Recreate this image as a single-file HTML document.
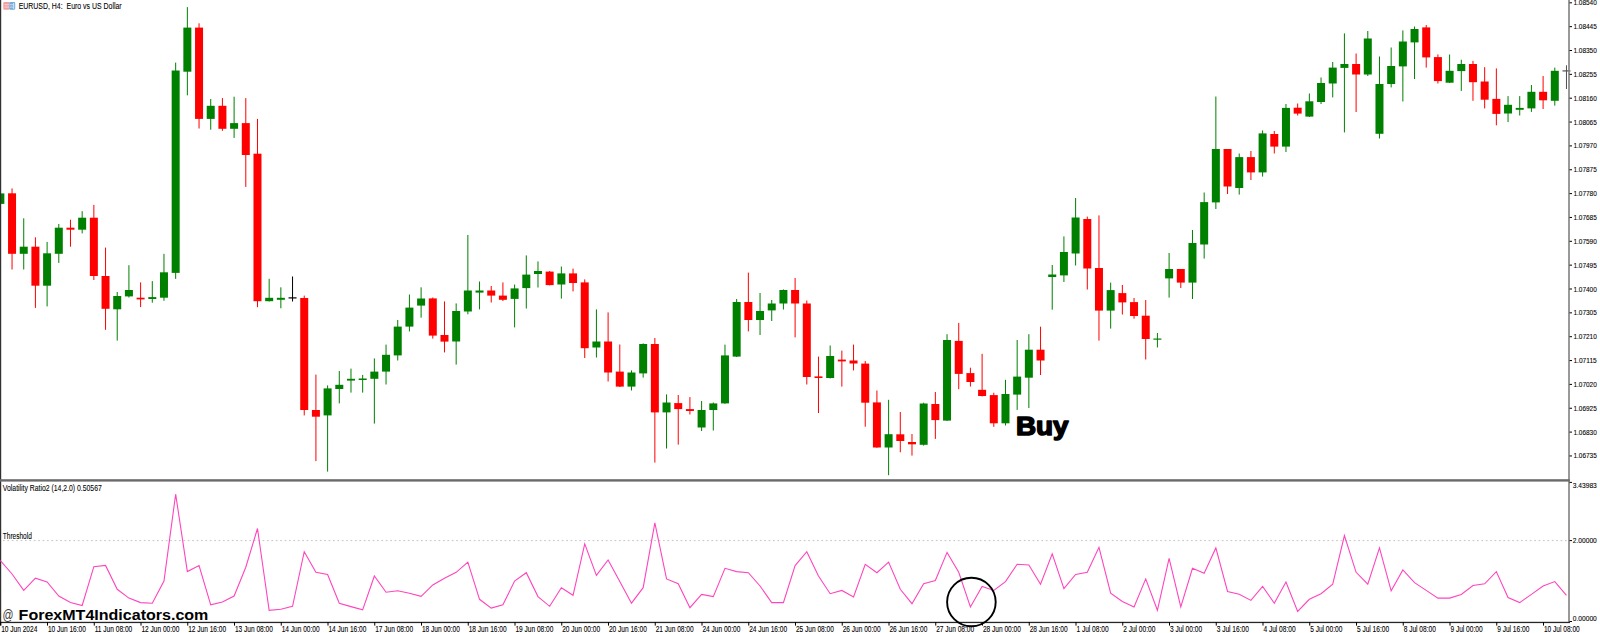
<!DOCTYPE html><html><head><meta charset="utf-8"><style>html,body{margin:0;padding:0;background:#fff;width:1600px;height:633px;overflow:hidden}svg{display:block}text{font-family:"Liberation Sans",sans-serif}</style></head><body>
<svg width="1600" height="633" viewBox="0 0 1600 633">
<rect x="0" y="0" width="1600" height="633" fill="#fff"/>
<rect x="-0.15" y="190.0" width="1" height="17.0" fill="#008000"/>
<rect x="-3.65" y="193.4" width="8" height="10.5" fill="#008000"/>
<rect x="11.54" y="188.4" width="1" height="81.1" fill="#ff0000"/>
<rect x="8.04" y="193.3" width="8" height="60.5" fill="#ff0000"/>
<rect x="23.23" y="218.3" width="1" height="51.2" fill="#008000"/>
<rect x="19.73" y="246.7" width="8" height="7.1" fill="#008000"/>
<rect x="34.91" y="237.3" width="1" height="70.6" fill="#ff0000"/>
<rect x="31.41" y="246.7" width="8" height="39.0" fill="#ff0000"/>
<rect x="46.60" y="241.9" width="1" height="64.5" fill="#008000"/>
<rect x="43.10" y="253.3" width="8" height="32.4" fill="#008000"/>
<rect x="58.29" y="224.0" width="1" height="38.9" fill="#008000"/>
<rect x="54.79" y="227.7" width="8" height="26.1" fill="#008000"/>
<rect x="69.97" y="219.7" width="1" height="27.0" fill="#ff0000"/>
<rect x="66.47" y="227.7" width="8" height="2.0" fill="#ff0000"/>
<rect x="81.66" y="211.2" width="1" height="22.2" fill="#008000"/>
<rect x="78.16" y="217.7" width="8" height="12.0" fill="#008000"/>
<rect x="93.35" y="204.9" width="1" height="75.1" fill="#ff0000"/>
<rect x="89.85" y="217.7" width="8" height="58.3" fill="#ff0000"/>
<rect x="105.04" y="247.6" width="1" height="82.2" fill="#ff0000"/>
<rect x="101.54" y="276.0" width="8" height="32.8" fill="#ff0000"/>
<rect x="116.72" y="292.0" width="1" height="48.6" fill="#008000"/>
<rect x="113.22" y="296.0" width="8" height="13.3" fill="#008000"/>
<rect x="128.41" y="265.2" width="1" height="32.3" fill="#008000"/>
<rect x="124.91" y="290.0" width="8" height="6.4" fill="#008000"/>
<rect x="140.10" y="282.4" width="1" height="24.7" fill="#ff0000"/>
<rect x="136.60" y="297.7" width="8" height="1.7" fill="#ff0000"/>
<rect x="151.79" y="281.1" width="1" height="21.6" fill="#008000"/>
<rect x="148.29" y="297.1" width="8" height="1.9" fill="#008000"/>
<rect x="163.47" y="253.8" width="1" height="47.0" fill="#008000"/>
<rect x="159.97" y="272.3" width="8" height="25.4" fill="#008000"/>
<rect x="175.16" y="62.6" width="1" height="216.3" fill="#008000"/>
<rect x="171.66" y="70.5" width="8" height="202.4" fill="#008000"/>
<rect x="186.85" y="7.1" width="1" height="88.2" fill="#008000"/>
<rect x="183.35" y="27.6" width="8" height="44.1" fill="#008000"/>
<rect x="198.54" y="23.3" width="1" height="105.2" fill="#ff0000"/>
<rect x="195.04" y="27.6" width="8" height="91.3" fill="#ff0000"/>
<rect x="210.22" y="99.0" width="1" height="30.7" fill="#008000"/>
<rect x="206.72" y="105.8" width="8" height="13.1" fill="#008000"/>
<rect x="221.91" y="98.1" width="1" height="32.7" fill="#ff0000"/>
<rect x="218.41" y="105.8" width="8" height="23.0" fill="#ff0000"/>
<rect x="233.60" y="96.7" width="1" height="41.2" fill="#008000"/>
<rect x="230.10" y="123.1" width="8" height="5.7" fill="#008000"/>
<rect x="245.29" y="98.1" width="1" height="88.8" fill="#ff0000"/>
<rect x="241.79" y="123.1" width="8" height="31.9" fill="#ff0000"/>
<rect x="256.98" y="118.9" width="1" height="188.3" fill="#ff0000"/>
<rect x="253.48" y="153.7" width="8" height="147.5" fill="#ff0000"/>
<rect x="268.66" y="278.8" width="1" height="22.7" fill="#008000"/>
<rect x="265.16" y="297.8" width="8" height="3.4" fill="#008000"/>
<rect x="280.35" y="287.3" width="1" height="21.0" fill="#008000"/>
<rect x="276.85" y="297.8" width="8" height="2.0" fill="#008000"/>
<rect x="292.04" y="276.5" width="1" height="25.0" fill="#000000"/>
<rect x="288.54" y="297.3" width="8" height="1.2" fill="#000000"/>
<rect x="303.73" y="295.6" width="1" height="119.8" fill="#ff0000"/>
<rect x="300.23" y="298.0" width="8" height="112.0" fill="#ff0000"/>
<rect x="315.41" y="374.6" width="1" height="86.5" fill="#ff0000"/>
<rect x="311.91" y="410.0" width="8" height="6.7" fill="#ff0000"/>
<rect x="327.10" y="385.4" width="1" height="86.2" fill="#008000"/>
<rect x="323.60" y="388.4" width="8" height="27.0" fill="#008000"/>
<rect x="338.79" y="371.0" width="1" height="32.4" fill="#008000"/>
<rect x="335.29" y="384.8" width="8" height="4.2" fill="#008000"/>
<rect x="350.48" y="368.6" width="1" height="24.0" fill="#008000"/>
<rect x="346.98" y="378.8" width="8" height="1.8" fill="#008000"/>
<rect x="362.16" y="374.9" width="1" height="17.7" fill="#008000"/>
<rect x="358.66" y="378.5" width="8" height="1.5" fill="#008000"/>
<rect x="373.85" y="358.4" width="1" height="65.2" fill="#008000"/>
<rect x="370.35" y="371.6" width="8" height="7.2" fill="#008000"/>
<rect x="385.54" y="344.6" width="1" height="39.9" fill="#008000"/>
<rect x="382.04" y="354.8" width="8" height="16.8" fill="#008000"/>
<rect x="397.23" y="320.0" width="1" height="40.5" fill="#008000"/>
<rect x="393.73" y="326.6" width="8" height="28.8" fill="#008000"/>
<rect x="408.91" y="294.5" width="1" height="36.9" fill="#008000"/>
<rect x="405.41" y="307.6" width="8" height="19.0" fill="#008000"/>
<rect x="420.60" y="287.3" width="1" height="30.4" fill="#008000"/>
<rect x="417.10" y="298.5" width="8" height="7.1" fill="#008000"/>
<rect x="432.29" y="297.5" width="1" height="41.1" fill="#ff0000"/>
<rect x="428.79" y="298.4" width="8" height="37.2" fill="#ff0000"/>
<rect x="443.98" y="301.4" width="1" height="51.0" fill="#ff0000"/>
<rect x="440.48" y="335.0" width="8" height="6.6" fill="#ff0000"/>
<rect x="455.66" y="303.4" width="1" height="61.2" fill="#008000"/>
<rect x="452.16" y="311.0" width="8" height="30.5" fill="#008000"/>
<rect x="467.35" y="235.0" width="1" height="79.3" fill="#008000"/>
<rect x="463.85" y="290.5" width="8" height="21.0" fill="#008000"/>
<rect x="479.04" y="281.5" width="1" height="27.9" fill="#008000"/>
<rect x="475.54" y="290.5" width="8" height="2.1" fill="#008000"/>
<rect x="490.73" y="286.0" width="1" height="16.5" fill="#ff0000"/>
<rect x="487.23" y="290.5" width="8" height="5.1" fill="#ff0000"/>
<rect x="502.41" y="282.4" width="1" height="18.6" fill="#ff0000"/>
<rect x="498.91" y="295.6" width="8" height="4.2" fill="#ff0000"/>
<rect x="514.10" y="284.5" width="1" height="42.9" fill="#008000"/>
<rect x="510.60" y="288.4" width="8" height="10.5" fill="#008000"/>
<rect x="525.79" y="255.4" width="1" height="53.1" fill="#008000"/>
<rect x="522.29" y="274.6" width="8" height="13.5" fill="#008000"/>
<rect x="537.48" y="261.4" width="1" height="26.1" fill="#008000"/>
<rect x="533.98" y="271.0" width="8" height="3.0" fill="#008000"/>
<rect x="549.16" y="271.0" width="1" height="14.4" fill="#ff0000"/>
<rect x="545.66" y="271.6" width="8" height="13.5" fill="#ff0000"/>
<rect x="560.85" y="266.5" width="1" height="32.1" fill="#008000"/>
<rect x="557.35" y="273.4" width="8" height="11.1" fill="#008000"/>
<rect x="572.54" y="268.6" width="1" height="22.8" fill="#ff0000"/>
<rect x="569.04" y="273.4" width="8" height="9.6" fill="#ff0000"/>
<rect x="584.23" y="279.4" width="1" height="78.6" fill="#ff0000"/>
<rect x="580.73" y="282.4" width="8" height="65.8" fill="#ff0000"/>
<rect x="595.91" y="309.4" width="1" height="48.1" fill="#008000"/>
<rect x="592.41" y="341.5" width="8" height="6.0" fill="#008000"/>
<rect x="607.60" y="312.4" width="1" height="69.1" fill="#ff0000"/>
<rect x="604.10" y="341.5" width="8" height="31.0" fill="#ff0000"/>
<rect x="619.29" y="344.5" width="1" height="42.5" fill="#ff0000"/>
<rect x="615.79" y="371.6" width="8" height="15.0" fill="#ff0000"/>
<rect x="630.98" y="370.4" width="1" height="20.1" fill="#008000"/>
<rect x="627.48" y="372.5" width="8" height="14.1" fill="#008000"/>
<rect x="642.66" y="343.4" width="1" height="34.2" fill="#008000"/>
<rect x="639.16" y="344.0" width="8" height="29.4" fill="#008000"/>
<rect x="654.35" y="338.0" width="1" height="124.6" fill="#ff0000"/>
<rect x="650.85" y="344.0" width="8" height="68.4" fill="#ff0000"/>
<rect x="666.04" y="394.4" width="1" height="54.1" fill="#008000"/>
<rect x="662.54" y="402.5" width="8" height="9.9" fill="#008000"/>
<rect x="677.73" y="395.0" width="1" height="49.6" fill="#ff0000"/>
<rect x="674.23" y="403.1" width="8" height="6.0" fill="#ff0000"/>
<rect x="689.41" y="397.1" width="1" height="17.4" fill="#ff0000"/>
<rect x="685.91" y="409.1" width="8" height="1.9" fill="#ff0000"/>
<rect x="701.10" y="401.0" width="1" height="30.0" fill="#008000"/>
<rect x="697.60" y="410.0" width="8" height="17.5" fill="#008000"/>
<rect x="712.79" y="402.5" width="1" height="28.0" fill="#008000"/>
<rect x="709.29" y="403.4" width="8" height="6.6" fill="#008000"/>
<rect x="724.48" y="344.6" width="1" height="59.2" fill="#008000"/>
<rect x="720.98" y="355.4" width="8" height="48.0" fill="#008000"/>
<rect x="736.16" y="299.0" width="1" height="58.0" fill="#008000"/>
<rect x="732.66" y="302.0" width="8" height="54.6" fill="#008000"/>
<rect x="747.85" y="272.6" width="1" height="58.8" fill="#ff0000"/>
<rect x="744.35" y="302.0" width="8" height="18.0" fill="#ff0000"/>
<rect x="759.54" y="293.0" width="1" height="42.0" fill="#008000"/>
<rect x="756.04" y="311.0" width="8" height="9.0" fill="#008000"/>
<rect x="771.23" y="300.0" width="1" height="21.0" fill="#008000"/>
<rect x="767.73" y="303.5" width="8" height="6.9" fill="#008000"/>
<rect x="782.91" y="289.4" width="1" height="20.1" fill="#008000"/>
<rect x="779.41" y="290.0" width="8" height="13.5" fill="#008000"/>
<rect x="794.60" y="278.0" width="1" height="59.4" fill="#ff0000"/>
<rect x="791.10" y="290.0" width="8" height="13.5" fill="#ff0000"/>
<rect x="806.29" y="300.5" width="1" height="84.0" fill="#ff0000"/>
<rect x="802.79" y="303.5" width="8" height="73.5" fill="#ff0000"/>
<rect x="817.98" y="356.6" width="1" height="56.4" fill="#ff0000"/>
<rect x="814.48" y="376.4" width="8" height="1.6" fill="#ff0000"/>
<rect x="829.66" y="345.5" width="1" height="33.0" fill="#008000"/>
<rect x="826.16" y="356.0" width="8" height="22.0" fill="#008000"/>
<rect x="841.35" y="350.6" width="1" height="36.0" fill="#ff0000"/>
<rect x="837.85" y="359.6" width="8" height="1.8" fill="#ff0000"/>
<rect x="853.04" y="344.6" width="1" height="25.8" fill="#ff0000"/>
<rect x="849.54" y="360.5" width="8" height="3.0" fill="#ff0000"/>
<rect x="864.73" y="361.0" width="1" height="65.7" fill="#ff0000"/>
<rect x="861.23" y="363.6" width="8" height="39.1" fill="#ff0000"/>
<rect x="876.41" y="390.5" width="1" height="57.3" fill="#ff0000"/>
<rect x="872.91" y="402.4" width="8" height="45.1" fill="#ff0000"/>
<rect x="888.10" y="399.8" width="1" height="75.4" fill="#008000"/>
<rect x="884.60" y="434.2" width="8" height="13.3" fill="#008000"/>
<rect x="899.79" y="412.0" width="1" height="40.3" fill="#ff0000"/>
<rect x="896.29" y="434.3" width="8" height="6.7" fill="#ff0000"/>
<rect x="911.48" y="434.0" width="1" height="21.6" fill="#ff0000"/>
<rect x="907.98" y="442.0" width="8" height="2.3" fill="#ff0000"/>
<rect x="923.16" y="402.7" width="1" height="42.9" fill="#008000"/>
<rect x="919.66" y="403.5" width="8" height="41.3" fill="#008000"/>
<rect x="934.85" y="392.0" width="1" height="46.9" fill="#ff0000"/>
<rect x="931.35" y="404.0" width="8" height="16.1" fill="#ff0000"/>
<rect x="946.54" y="334.2" width="1" height="86.8" fill="#008000"/>
<rect x="943.04" y="340.0" width="8" height="80.6" fill="#008000"/>
<rect x="958.23" y="322.9" width="1" height="66.3" fill="#ff0000"/>
<rect x="954.73" y="340.9" width="8" height="33.0" fill="#ff0000"/>
<rect x="969.91" y="367.7" width="1" height="18.8" fill="#ff0000"/>
<rect x="966.41" y="373.1" width="8" height="8.9" fill="#ff0000"/>
<rect x="981.60" y="353.8" width="1" height="42.7" fill="#ff0000"/>
<rect x="978.10" y="389.8" width="8" height="6.2" fill="#ff0000"/>
<rect x="993.29" y="392.7" width="1" height="34.1" fill="#ff0000"/>
<rect x="989.79" y="395.1" width="8" height="28.2" fill="#ff0000"/>
<rect x="1004.98" y="379.8" width="1" height="45.7" fill="#008000"/>
<rect x="1001.48" y="394.0" width="8" height="29.3" fill="#008000"/>
<rect x="1016.66" y="340.0" width="1" height="69.9" fill="#008000"/>
<rect x="1013.16" y="376.6" width="8" height="18.0" fill="#008000"/>
<rect x="1028.35" y="334.2" width="1" height="73.8" fill="#008000"/>
<rect x="1024.85" y="349.7" width="8" height="28.0" fill="#008000"/>
<rect x="1040.04" y="326.7" width="1" height="48.3" fill="#ff0000"/>
<rect x="1036.54" y="349.7" width="8" height="10.8" fill="#ff0000"/>
<rect x="1051.72" y="265.0" width="1" height="44.7" fill="#008000"/>
<rect x="1048.22" y="274.5" width="8" height="2.5" fill="#008000"/>
<rect x="1063.41" y="236.4" width="1" height="45.6" fill="#008000"/>
<rect x="1059.91" y="252.0" width="8" height="23.4" fill="#008000"/>
<rect x="1075.10" y="198.0" width="1" height="67.5" fill="#008000"/>
<rect x="1071.60" y="217.5" width="8" height="36.0" fill="#008000"/>
<rect x="1086.79" y="216.6" width="1" height="72.9" fill="#ff0000"/>
<rect x="1083.29" y="219.0" width="8" height="49.5" fill="#ff0000"/>
<rect x="1098.47" y="215.4" width="1" height="125.2" fill="#ff0000"/>
<rect x="1094.97" y="268.0" width="8" height="42.6" fill="#ff0000"/>
<rect x="1110.16" y="282.6" width="1" height="46.0" fill="#008000"/>
<rect x="1106.66" y="290.1" width="8" height="20.5" fill="#008000"/>
<rect x="1121.85" y="285.0" width="1" height="29.5" fill="#ff0000"/>
<rect x="1118.35" y="293.1" width="8" height="9.3" fill="#ff0000"/>
<rect x="1133.54" y="298.0" width="1" height="20.7" fill="#ff0000"/>
<rect x="1130.04" y="302.1" width="8" height="13.9" fill="#ff0000"/>
<rect x="1145.22" y="300.0" width="1" height="59.5" fill="#ff0000"/>
<rect x="1141.72" y="315.7" width="8" height="23.3" fill="#ff0000"/>
<rect x="1156.91" y="333.0" width="1" height="14.5" fill="#008000"/>
<rect x="1153.41" y="338.5" width="8" height="1.2" fill="#008000"/>
<rect x="1168.60" y="253.0" width="1" height="44.6" fill="#008000"/>
<rect x="1165.10" y="269.0" width="8" height="9.4" fill="#008000"/>
<rect x="1180.29" y="269.0" width="1" height="19.0" fill="#ff0000"/>
<rect x="1176.79" y="269.0" width="8" height="13.6" fill="#ff0000"/>
<rect x="1191.97" y="230.0" width="1" height="69.0" fill="#008000"/>
<rect x="1188.47" y="243.0" width="8" height="39.6" fill="#008000"/>
<rect x="1203.66" y="192.5" width="1" height="66.1" fill="#008000"/>
<rect x="1200.16" y="202.1" width="8" height="42.4" fill="#008000"/>
<rect x="1215.35" y="96.5" width="1" height="112.5" fill="#008000"/>
<rect x="1211.85" y="149.0" width="8" height="53.4" fill="#008000"/>
<rect x="1227.04" y="149.0" width="1" height="45.0" fill="#ff0000"/>
<rect x="1223.54" y="149.0" width="8" height="37.5" fill="#ff0000"/>
<rect x="1238.72" y="153.5" width="1" height="41.1" fill="#008000"/>
<rect x="1235.22" y="157.1" width="8" height="30.9" fill="#008000"/>
<rect x="1250.41" y="151.0" width="1" height="29.0" fill="#ff0000"/>
<rect x="1246.91" y="157.1" width="8" height="15.3" fill="#ff0000"/>
<rect x="1262.10" y="130.4" width="1" height="46.2" fill="#008000"/>
<rect x="1258.60" y="133.4" width="8" height="39.0" fill="#008000"/>
<rect x="1273.79" y="131.0" width="1" height="22.5" fill="#ff0000"/>
<rect x="1270.29" y="134.0" width="8" height="12.6" fill="#ff0000"/>
<rect x="1285.47" y="104.0" width="1" height="48.0" fill="#008000"/>
<rect x="1281.97" y="107.9" width="8" height="38.7" fill="#008000"/>
<rect x="1297.16" y="103.5" width="1" height="12.0" fill="#ff0000"/>
<rect x="1293.66" y="107.7" width="8" height="5.9" fill="#ff0000"/>
<rect x="1308.85" y="93.5" width="1" height="23.5" fill="#008000"/>
<rect x="1305.35" y="101.3" width="8" height="15.3" fill="#008000"/>
<rect x="1320.54" y="77.5" width="1" height="26.5" fill="#008000"/>
<rect x="1317.04" y="83.0" width="8" height="19.0" fill="#008000"/>
<rect x="1332.22" y="62.0" width="1" height="35.4" fill="#008000"/>
<rect x="1328.72" y="67.6" width="8" height="15.9" fill="#008000"/>
<rect x="1343.91" y="33.4" width="1" height="99.0" fill="#008000"/>
<rect x="1340.41" y="64.0" width="8" height="3.9" fill="#008000"/>
<rect x="1355.60" y="53.5" width="1" height="58.5" fill="#ff0000"/>
<rect x="1352.10" y="64.0" width="8" height="10.5" fill="#ff0000"/>
<rect x="1367.29" y="31.0" width="1" height="45.0" fill="#008000"/>
<rect x="1363.79" y="38.5" width="8" height="36.0" fill="#008000"/>
<rect x="1378.97" y="56.5" width="1" height="82.0" fill="#008000"/>
<rect x="1375.47" y="84.0" width="8" height="49.8" fill="#008000"/>
<rect x="1390.66" y="47.5" width="1" height="39.9" fill="#008000"/>
<rect x="1387.16" y="66.0" width="8" height="18.0" fill="#008000"/>
<rect x="1402.35" y="30.4" width="1" height="71.1" fill="#008000"/>
<rect x="1398.85" y="41.5" width="8" height="24.9" fill="#008000"/>
<rect x="1414.04" y="26.5" width="1" height="52.5" fill="#008000"/>
<rect x="1410.54" y="29.0" width="8" height="13.4" fill="#008000"/>
<rect x="1425.72" y="25.0" width="1" height="42.6" fill="#ff0000"/>
<rect x="1422.22" y="27.4" width="8" height="30.0" fill="#ff0000"/>
<rect x="1437.41" y="54.4" width="1" height="29.1" fill="#ff0000"/>
<rect x="1433.91" y="57.1" width="8" height="24.0" fill="#ff0000"/>
<rect x="1449.10" y="54.5" width="1" height="28.5" fill="#008000"/>
<rect x="1445.60" y="70.8" width="8" height="11.9" fill="#008000"/>
<rect x="1460.79" y="59.7" width="1" height="31.2" fill="#008000"/>
<rect x="1457.29" y="64.0" width="8" height="7.1" fill="#008000"/>
<rect x="1472.47" y="60.9" width="1" height="39.9" fill="#ff0000"/>
<rect x="1468.97" y="64.0" width="8" height="18.2" fill="#ff0000"/>
<rect x="1484.16" y="67.2" width="1" height="41.2" fill="#ff0000"/>
<rect x="1480.66" y="81.5" width="8" height="18.2" fill="#ff0000"/>
<rect x="1495.85" y="68.4" width="1" height="56.9" fill="#ff0000"/>
<rect x="1492.35" y="98.9" width="8" height="15.0" fill="#ff0000"/>
<rect x="1507.54" y="96.1" width="1" height="26.0" fill="#008000"/>
<rect x="1504.04" y="104.8" width="8" height="8.7" fill="#008000"/>
<rect x="1519.22" y="96.1" width="1" height="19.4" fill="#008000"/>
<rect x="1515.72" y="107.9" width="8" height="1.9" fill="#008000"/>
<rect x="1530.91" y="85.0" width="1" height="26.9" fill="#008000"/>
<rect x="1527.41" y="91.8" width="8" height="16.6" fill="#008000"/>
<rect x="1542.60" y="76.0" width="1" height="33.0" fill="#ff0000"/>
<rect x="1539.10" y="91.8" width="8" height="8.5" fill="#ff0000"/>
<rect x="1554.29" y="67.6" width="1" height="38.0" fill="#008000"/>
<rect x="1550.79" y="70.8" width="8" height="30.0" fill="#008000"/>
<rect x="1565.97" y="65.3" width="1" height="23.7" fill="#505050"/>
<rect x="1562.47" y="70.3" width="8" height="1.2" fill="#505050"/>
<rect x="0" y="0" width="1.2" height="625.5" fill="#303030"/>
<g><rect x="3.3" y="2" width="6" height="7.8" rx="1" fill="#f2a0a0"/><rect x="9.2" y="2" width="6" height="7.8" rx="1" fill="#79abd9"/><rect x="4.6" y="4.2" width="4.4" height="1" fill="#fcd0d0"/><rect x="4.6" y="6.6" width="4.4" height="1" fill="#fcd0d0"/><rect x="9.6" y="4.2" width="4.4" height="1" fill="#b8dcf5"/><rect x="9.6" y="6.6" width="4.4" height="1" fill="#b8dcf5"/><rect x="13" y="3" width="1.2" height="5.8" fill="#c8e2f5"/></g>
<text x="18.7" y="9" font-size="8.8" fill="#000" stroke="#000" stroke-width="0.08" textLength="103" lengthAdjust="spacingAndGlyphs">EURUSD, H4:&#160; Euro vs US Dollar</text>
<rect x="1568.2" y="0" width="1.6" height="622" fill="#808080"/>
<rect x="1569.5" y="2.30" width="2.5" height="1" fill="#000"/>
<text x="1573.4" y="5.30" font-size="8" fill="#000" stroke="#000" stroke-width="0.1" textLength="23.4" lengthAdjust="spacingAndGlyphs">1.08540</text>
<rect x="1569.5" y="26.15" width="2.5" height="1" fill="#000"/>
<text x="1573.4" y="29.15" font-size="8" fill="#000" stroke="#000" stroke-width="0.1" textLength="23.4" lengthAdjust="spacingAndGlyphs">1.08445</text>
<rect x="1569.5" y="50.00" width="2.5" height="1" fill="#000"/>
<text x="1573.4" y="53.00" font-size="8" fill="#000" stroke="#000" stroke-width="0.1" textLength="23.4" lengthAdjust="spacingAndGlyphs">1.08350</text>
<rect x="1569.5" y="73.85" width="2.5" height="1" fill="#000"/>
<text x="1573.4" y="76.85" font-size="8" fill="#000" stroke="#000" stroke-width="0.1" textLength="23.4" lengthAdjust="spacingAndGlyphs">1.08255</text>
<rect x="1569.5" y="97.70" width="2.5" height="1" fill="#000"/>
<text x="1573.4" y="100.70" font-size="8" fill="#000" stroke="#000" stroke-width="0.1" textLength="23.4" lengthAdjust="spacingAndGlyphs">1.08160</text>
<rect x="1569.5" y="121.55" width="2.5" height="1" fill="#000"/>
<text x="1573.4" y="124.55" font-size="8" fill="#000" stroke="#000" stroke-width="0.1" textLength="23.4" lengthAdjust="spacingAndGlyphs">1.08065</text>
<rect x="1569.5" y="145.40" width="2.5" height="1" fill="#000"/>
<text x="1573.4" y="148.40" font-size="8" fill="#000" stroke="#000" stroke-width="0.1" textLength="23.4" lengthAdjust="spacingAndGlyphs">1.07970</text>
<rect x="1569.5" y="169.25" width="2.5" height="1" fill="#000"/>
<text x="1573.4" y="172.25" font-size="8" fill="#000" stroke="#000" stroke-width="0.1" textLength="23.4" lengthAdjust="spacingAndGlyphs">1.07875</text>
<rect x="1569.5" y="193.10" width="2.5" height="1" fill="#000"/>
<text x="1573.4" y="196.10" font-size="8" fill="#000" stroke="#000" stroke-width="0.1" textLength="23.4" lengthAdjust="spacingAndGlyphs">1.07780</text>
<rect x="1569.5" y="216.95" width="2.5" height="1" fill="#000"/>
<text x="1573.4" y="219.95" font-size="8" fill="#000" stroke="#000" stroke-width="0.1" textLength="23.4" lengthAdjust="spacingAndGlyphs">1.07685</text>
<rect x="1569.5" y="240.80" width="2.5" height="1" fill="#000"/>
<text x="1573.4" y="243.80" font-size="8" fill="#000" stroke="#000" stroke-width="0.1" textLength="23.4" lengthAdjust="spacingAndGlyphs">1.07590</text>
<rect x="1569.5" y="264.65" width="2.5" height="1" fill="#000"/>
<text x="1573.4" y="267.65" font-size="8" fill="#000" stroke="#000" stroke-width="0.1" textLength="23.4" lengthAdjust="spacingAndGlyphs">1.07495</text>
<rect x="1569.5" y="288.50" width="2.5" height="1" fill="#000"/>
<text x="1573.4" y="291.50" font-size="8" fill="#000" stroke="#000" stroke-width="0.1" textLength="23.4" lengthAdjust="spacingAndGlyphs">1.07400</text>
<rect x="1569.5" y="312.35" width="2.5" height="1" fill="#000"/>
<text x="1573.4" y="315.35" font-size="8" fill="#000" stroke="#000" stroke-width="0.1" textLength="23.4" lengthAdjust="spacingAndGlyphs">1.07305</text>
<rect x="1569.5" y="336.20" width="2.5" height="1" fill="#000"/>
<text x="1573.4" y="339.20" font-size="8" fill="#000" stroke="#000" stroke-width="0.1" textLength="23.4" lengthAdjust="spacingAndGlyphs">1.07210</text>
<rect x="1569.5" y="360.05" width="2.5" height="1" fill="#000"/>
<text x="1573.4" y="363.05" font-size="8" fill="#000" stroke="#000" stroke-width="0.1" textLength="23.4" lengthAdjust="spacingAndGlyphs">1.07115</text>
<rect x="1569.5" y="383.90" width="2.5" height="1" fill="#000"/>
<text x="1573.4" y="386.90" font-size="8" fill="#000" stroke="#000" stroke-width="0.1" textLength="23.4" lengthAdjust="spacingAndGlyphs">1.07020</text>
<rect x="1569.5" y="407.75" width="2.5" height="1" fill="#000"/>
<text x="1573.4" y="410.75" font-size="8" fill="#000" stroke="#000" stroke-width="0.1" textLength="23.4" lengthAdjust="spacingAndGlyphs">1.06925</text>
<rect x="1569.5" y="431.60" width="2.5" height="1" fill="#000"/>
<text x="1573.4" y="434.60" font-size="8" fill="#000" stroke="#000" stroke-width="0.1" textLength="23.4" lengthAdjust="spacingAndGlyphs">1.06830</text>
<rect x="1569.5" y="455.45" width="2.5" height="1" fill="#000"/>
<text x="1573.4" y="458.45" font-size="8" fill="#000" stroke="#000" stroke-width="0.1" textLength="23.4" lengthAdjust="spacingAndGlyphs">1.06735</text>
<rect x="0" y="479.2" width="1569.7" height="2.4" fill="#6a6a6a"/>
<text x="2.8" y="491.2" font-size="8.4" fill="#000" stroke="#000" stroke-width="0.08" textLength="99" lengthAdjust="spacingAndGlyphs">Volatility Ratio2 (14,2.0) 0.50567</text>
<text x="2.8" y="538.8" font-size="8.4" fill="#000" stroke="#000" stroke-width="0.08" textLength="29" lengthAdjust="spacingAndGlyphs">Threshold</text>
<line x1="3" y1="540.6" x2="1568" y2="540.6" stroke="#c4c4c4" stroke-width="1" stroke-dasharray="1.7 2.7"/>
<polyline points="0.35,560.5 12.04,574.0 23.73,590.4 35.41,578.2 47.10,582.0 58.79,596.0 70.47,602.6 82.16,605.5 93.85,566.7 105.54,565.4 117.22,589.3 128.91,598.1 140.60,602.6 152.29,603.2 163.97,581.1 175.66,494.2 187.35,571.6 199.04,565.6 210.72,604.8 222.41,602.1 234.10,596.0 245.79,567.2 257.48,528.5 269.16,610.3 280.85,609.2 292.54,606.3 304.23,551.7 315.91,572.3 327.60,574.5 339.29,603.2 350.98,606.6 362.66,609.9 374.35,576.0 386.04,592.2 397.73,590.8 409.41,593.3 421.10,596.4 432.79,584.9 444.48,578.2 456.16,572.3 467.85,562.1 479.54,599.3 491.23,608.1 502.91,604.8 514.60,581.1 526.29,572.7 537.98,596.6 549.66,606.3 561.35,587.7 573.04,595.3 584.73,543.9 596.41,575.4 608.10,559.9 619.79,581.6 631.48,603.2 643.16,587.7 654.85,522.9 666.54,578.9 678.23,583.8 689.91,607.7 701.60,594.4 713.29,596.6 724.98,568.3 736.66,571.6 748.35,572.7 760.04,586.0 771.73,602.6 783.41,602.6 795.10,565.6 806.79,551.7 818.48,576.0 830.16,593.7 841.85,590.4 853.54,597.0 865.23,564.3 876.91,572.7 888.60,562.1 900.29,589.3 911.98,603.7 923.66,583.8 935.35,580.5 947.04,552.4 958.73,572.2 970.41,607.0 982.10,586.4 993.79,590.4 1005.48,581.6 1017.16,564.3 1028.85,565.0 1040.54,584.2 1052.22,553.9 1063.91,588.6 1075.60,574.5 1087.29,572.3 1098.97,547.3 1110.66,593.1 1122.35,601.5 1134.04,607.0 1145.72,578.9 1157.41,610.3 1169.10,558.3 1180.79,607.0 1192.47,568.3 1204.16,573.2 1215.85,547.9 1227.54,591.5 1239.22,594.2 1250.91,600.4 1262.60,586.4 1274.29,603.2 1285.97,582.0 1297.66,611.4 1309.35,599.3 1321.04,593.7 1332.72,584.2 1344.41,535.5 1356.10,572.3 1367.79,584.2 1379.47,547.9 1391.16,590.8 1402.85,570.0 1414.54,582.7 1426.22,590.4 1437.91,598.1 1449.60,598.1 1461.29,594.4 1472.97,585.5 1484.66,583.8 1496.35,571.6 1508.04,597.5 1519.72,602.6 1531.41,594.4 1543.10,586.0 1554.79,581.6 1566.47,595.3" fill="none" stroke="#ff45bd" stroke-width="1.1" stroke-linejoin="miter"/>
<rect x="1569.5" y="481.90" width="2.5" height="1" fill="#000"/>
<text x="1572.8" y="488.1" font-size="8" fill="#000" stroke="#000" stroke-width="0.1" textLength="24" lengthAdjust="spacingAndGlyphs">3.43983</text>
<rect x="1569.5" y="540.10" width="2.5" height="1" fill="#000"/>
<text x="1572.8" y="543.1" font-size="8" fill="#000" stroke="#000" stroke-width="0.1" textLength="24" lengthAdjust="spacingAndGlyphs">2.00000</text>
<rect x="1569.5" y="621.00" width="2.5" height="1" fill="#000"/>
<text x="1572.8" y="620.6" font-size="8" fill="#000" stroke="#000" stroke-width="0.1" textLength="24" lengthAdjust="spacingAndGlyphs">0.00000</text>
<rect x="0" y="621.8" width="1570" height="1.3" fill="#262626"/>
<rect x="0.25" y="622" width="1" height="3.6" fill="#000"/>
<text x="1.15" y="631.9" font-size="8.4" fill="#000" stroke="#000" stroke-width="0.1" textLength="36.2" lengthAdjust="spacingAndGlyphs">10 Jun 2024</text>
<rect x="47.00" y="622" width="1" height="3.6" fill="#000"/>
<text x="47.90" y="631.9" font-size="8.4" fill="#000" stroke="#000" stroke-width="0.1" textLength="38.0" lengthAdjust="spacingAndGlyphs">10 Jun 16:00</text>
<rect x="93.75" y="622" width="1" height="3.6" fill="#000"/>
<text x="94.65" y="631.9" font-size="8.4" fill="#000" stroke="#000" stroke-width="0.1" textLength="37.6" lengthAdjust="spacingAndGlyphs">11 Jun 08:00</text>
<rect x="140.50" y="622" width="1" height="3.6" fill="#000"/>
<text x="141.40" y="631.9" font-size="8.4" fill="#000" stroke="#000" stroke-width="0.1" textLength="38.0" lengthAdjust="spacingAndGlyphs">12 Jun 00:00</text>
<rect x="187.25" y="622" width="1" height="3.6" fill="#000"/>
<text x="188.15" y="631.9" font-size="8.4" fill="#000" stroke="#000" stroke-width="0.1" textLength="38.0" lengthAdjust="spacingAndGlyphs">12 Jun 16:00</text>
<rect x="234.00" y="622" width="1" height="3.6" fill="#000"/>
<text x="234.90" y="631.9" font-size="8.4" fill="#000" stroke="#000" stroke-width="0.1" textLength="38.0" lengthAdjust="spacingAndGlyphs">13 Jun 08:00</text>
<rect x="280.75" y="622" width="1" height="3.6" fill="#000"/>
<text x="281.65" y="631.9" font-size="8.4" fill="#000" stroke="#000" stroke-width="0.1" textLength="38.0" lengthAdjust="spacingAndGlyphs">14 Jun 00:00</text>
<rect x="327.50" y="622" width="1" height="3.6" fill="#000"/>
<text x="328.40" y="631.9" font-size="8.4" fill="#000" stroke="#000" stroke-width="0.1" textLength="38.0" lengthAdjust="spacingAndGlyphs">14 Jun 16:00</text>
<rect x="374.25" y="622" width="1" height="3.6" fill="#000"/>
<text x="375.15" y="631.9" font-size="8.4" fill="#000" stroke="#000" stroke-width="0.1" textLength="38.0" lengthAdjust="spacingAndGlyphs">17 Jun 08:00</text>
<rect x="421.00" y="622" width="1" height="3.6" fill="#000"/>
<text x="421.90" y="631.9" font-size="8.4" fill="#000" stroke="#000" stroke-width="0.1" textLength="38.0" lengthAdjust="spacingAndGlyphs">18 Jun 00:00</text>
<rect x="467.75" y="622" width="1" height="3.6" fill="#000"/>
<text x="468.65" y="631.9" font-size="8.4" fill="#000" stroke="#000" stroke-width="0.1" textLength="38.0" lengthAdjust="spacingAndGlyphs">18 Jun 16:00</text>
<rect x="514.50" y="622" width="1" height="3.6" fill="#000"/>
<text x="515.40" y="631.9" font-size="8.4" fill="#000" stroke="#000" stroke-width="0.1" textLength="38.0" lengthAdjust="spacingAndGlyphs">19 Jun 08:00</text>
<rect x="561.25" y="622" width="1" height="3.6" fill="#000"/>
<text x="562.15" y="631.9" font-size="8.4" fill="#000" stroke="#000" stroke-width="0.1" textLength="38.0" lengthAdjust="spacingAndGlyphs">20 Jun 00:00</text>
<rect x="608.00" y="622" width="1" height="3.6" fill="#000"/>
<text x="608.90" y="631.9" font-size="8.4" fill="#000" stroke="#000" stroke-width="0.1" textLength="38.0" lengthAdjust="spacingAndGlyphs">20 Jun 16:00</text>
<rect x="654.75" y="622" width="1" height="3.6" fill="#000"/>
<text x="655.65" y="631.9" font-size="8.4" fill="#000" stroke="#000" stroke-width="0.1" textLength="38.0" lengthAdjust="spacingAndGlyphs">21 Jun 08:00</text>
<rect x="701.50" y="622" width="1" height="3.6" fill="#000"/>
<text x="702.40" y="631.9" font-size="8.4" fill="#000" stroke="#000" stroke-width="0.1" textLength="38.0" lengthAdjust="spacingAndGlyphs">24 Jun 00:00</text>
<rect x="748.25" y="622" width="1" height="3.6" fill="#000"/>
<text x="749.15" y="631.9" font-size="8.4" fill="#000" stroke="#000" stroke-width="0.1" textLength="38.0" lengthAdjust="spacingAndGlyphs">24 Jun 16:00</text>
<rect x="795.00" y="622" width="1" height="3.6" fill="#000"/>
<text x="795.90" y="631.9" font-size="8.4" fill="#000" stroke="#000" stroke-width="0.1" textLength="38.0" lengthAdjust="spacingAndGlyphs">25 Jun 08:00</text>
<rect x="841.75" y="622" width="1" height="3.6" fill="#000"/>
<text x="842.65" y="631.9" font-size="8.4" fill="#000" stroke="#000" stroke-width="0.1" textLength="38.0" lengthAdjust="spacingAndGlyphs">26 Jun 00:00</text>
<rect x="888.50" y="622" width="1" height="3.6" fill="#000"/>
<text x="889.40" y="631.9" font-size="8.4" fill="#000" stroke="#000" stroke-width="0.1" textLength="38.0" lengthAdjust="spacingAndGlyphs">26 Jun 16:00</text>
<rect x="935.25" y="622" width="1" height="3.6" fill="#000"/>
<text x="936.15" y="631.9" font-size="8.4" fill="#000" stroke="#000" stroke-width="0.1" textLength="38.0" lengthAdjust="spacingAndGlyphs">27 Jun 08:00</text>
<rect x="982.00" y="622" width="1" height="3.6" fill="#000"/>
<text x="982.90" y="631.9" font-size="8.4" fill="#000" stroke="#000" stroke-width="0.1" textLength="38.0" lengthAdjust="spacingAndGlyphs">28 Jun 00:00</text>
<rect x="1028.75" y="622" width="1" height="3.6" fill="#000"/>
<text x="1029.65" y="631.9" font-size="8.4" fill="#000" stroke="#000" stroke-width="0.1" textLength="38.0" lengthAdjust="spacingAndGlyphs">28 Jun 16:00</text>
<rect x="1075.50" y="622" width="1" height="3.6" fill="#000"/>
<text x="1076.40" y="631.9" font-size="8.4" fill="#000" stroke="#000" stroke-width="0.1" textLength="32.2" lengthAdjust="spacingAndGlyphs">1 Jul 08:00</text>
<rect x="1122.25" y="622" width="1" height="3.6" fill="#000"/>
<text x="1123.15" y="631.9" font-size="8.4" fill="#000" stroke="#000" stroke-width="0.1" textLength="32.2" lengthAdjust="spacingAndGlyphs">2 Jul 00:00</text>
<rect x="1169.00" y="622" width="1" height="3.6" fill="#000"/>
<text x="1169.90" y="631.9" font-size="8.4" fill="#000" stroke="#000" stroke-width="0.1" textLength="32.2" lengthAdjust="spacingAndGlyphs">3 Jul 00:00</text>
<rect x="1215.75" y="622" width="1" height="3.6" fill="#000"/>
<text x="1216.65" y="631.9" font-size="8.4" fill="#000" stroke="#000" stroke-width="0.1" textLength="32.2" lengthAdjust="spacingAndGlyphs">3 Jul 16:00</text>
<rect x="1262.50" y="622" width="1" height="3.6" fill="#000"/>
<text x="1263.40" y="631.9" font-size="8.4" fill="#000" stroke="#000" stroke-width="0.1" textLength="32.2" lengthAdjust="spacingAndGlyphs">4 Jul 08:00</text>
<rect x="1309.25" y="622" width="1" height="3.6" fill="#000"/>
<text x="1310.15" y="631.9" font-size="8.4" fill="#000" stroke="#000" stroke-width="0.1" textLength="32.2" lengthAdjust="spacingAndGlyphs">5 Jul 00:00</text>
<rect x="1356.00" y="622" width="1" height="3.6" fill="#000"/>
<text x="1356.90" y="631.9" font-size="8.4" fill="#000" stroke="#000" stroke-width="0.1" textLength="32.2" lengthAdjust="spacingAndGlyphs">5 Jul 16:00</text>
<rect x="1402.75" y="622" width="1" height="3.6" fill="#000"/>
<text x="1403.65" y="631.9" font-size="8.4" fill="#000" stroke="#000" stroke-width="0.1" textLength="32.2" lengthAdjust="spacingAndGlyphs">8 Jul 08:00</text>
<rect x="1449.50" y="622" width="1" height="3.6" fill="#000"/>
<text x="1450.40" y="631.9" font-size="8.4" fill="#000" stroke="#000" stroke-width="0.1" textLength="32.2" lengthAdjust="spacingAndGlyphs">9 Jul 00:00</text>
<rect x="1496.25" y="622" width="1" height="3.6" fill="#000"/>
<text x="1497.15" y="631.9" font-size="8.4" fill="#000" stroke="#000" stroke-width="0.1" textLength="32.2" lengthAdjust="spacingAndGlyphs">9 Jul 16:00</text>
<rect x="1543.00" y="622" width="1" height="3.6" fill="#000"/>
<text x="1543.90" y="631.9" font-size="8.4" fill="#000" stroke="#000" stroke-width="0.1" textLength="35.8" lengthAdjust="spacingAndGlyphs">10 Jul 08:00</text>
<text x="2.6" y="619.6" font-size="14.5" fill="#3a3a3a" textLength="11" lengthAdjust="spacingAndGlyphs">@</text>
<text x="18.6" y="620.2" font-size="13.8" font-weight="bold" fill="#000" textLength="189.8" lengthAdjust="spacingAndGlyphs">ForexMT4Indicators.com</text>
<text x="1015.9" y="435.3" font-size="25.6" font-weight="bold" fill="#000" stroke="#000" stroke-width="1.5" stroke-linejoin="round" textLength="52.6" lengthAdjust="spacingAndGlyphs">Buy</text>
<circle cx="971.4" cy="602" r="24.3" fill="none" stroke="#000" stroke-width="1.9"/>
</svg></body></html>
